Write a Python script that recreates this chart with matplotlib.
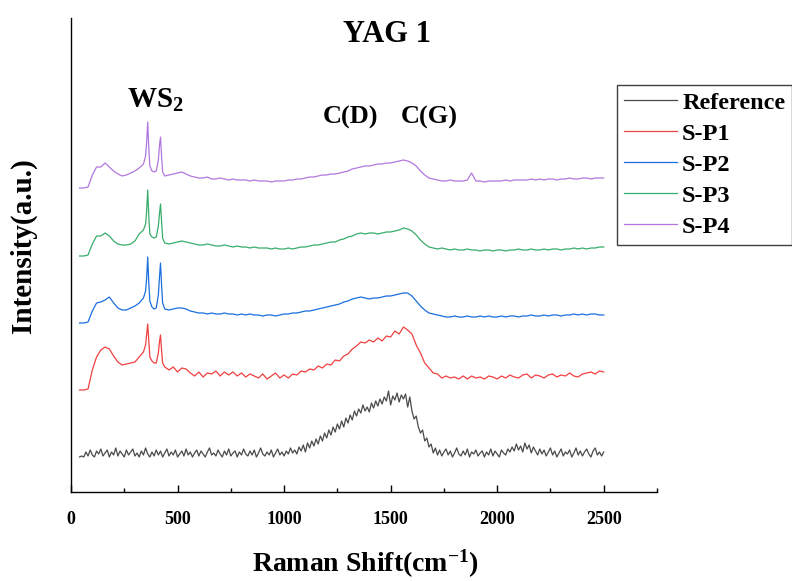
import numpy as np
import matplotlib
matplotlib.use("Agg")
from matplotlib import pyplot as plt
from matplotlib.ticker import MultipleLocator

plt.rcParams["font.family"] = "Liberation Serif"
plt.rcParams["font.weight"] = "bold"
plt.rcParams["mathtext.fontset"] = "custom"
plt.rcParams["mathtext.rm"] = "Liberation Serif:bold"
plt.rcParams["mathtext.it"] = "Liberation Serif:bold"
plt.rcParams["mathtext.bf"] = "Liberation Serif:bold"

# Raman shift axes (cm-1); the reference scan is on a finer 10 cm-1 step,
# the samples are denser around the WS2 peaks
shift_ref = np.arange(40, 2501, 10)
shift = np.concatenate([
    np.arange(40, 341, 20),
    [350, 355, 360, 365, 370, 380, 390, 400, 410, 415, 420, 425, 430, 440],
    np.arange(460, 2501, 20),
])

# baseline-corrected intensities (a.u.)
reference = [
    0, 1, 0, 5, 1, 7, 2, 0, 6, 3,
    8, 1, 4, 7, 0, 5, 2, 9, 1, 6,
    3, 0, 7, 2, 5, 8, 1, 4, 0, 6,
    2, 9, 3, 0, 5, 1, 7, 2, 6, 0,
    4, 8, 1, 5, 2, 7, 0, 3, 6, 1,
    8, 2, 5, 0, 4, 7, 1, 6, 3, 0,
    5, 9, 2, 4, 1, 7, 3, 0, 6, 2,
    8, 1, 4, 6, 0, 5, 2, 8, 3, 1,
    6, 2, 7, 0, 4, 9, 3, 1, 5, 2,
    7, 0, 4, 8, 2, 5, 1, 6, 3, 9,
    4, 7, 3, 10, 6, 12, 5, 14, 9, 16,
    11, 18, 13, 21, 16, 24, 19, 27, 22, 30,
    25, 33, 28, 36, 30, 39, 34, 42, 37, 46,
    41, 48, 44, 52, 46, 50, 45, 54, 49, 56,
    51, 58, 53, 60, 56, 66, 52, 61, 57, 64,
    55, 62, 58, 63, 50, 60, 46, 38, 41, 30,
    24, 27, 16, 19, 10, 13, 4, 9, 2, 7,
    1, 5, 8, 2, 6, 0, 4, 9, 3, 1,
    6, 2, 8, 0, 5, 3, 7, 1, 4, 6,
    0, 5, 2, 8, 1, 6, 3, 0, 7, 4,
    2, 8, 5, 10, 6, 13, 7, 11, 5, 14,
    8, 12, 4, 10, 6, 2, 8, 3, 7, 1,
    5, 9, 2, 6, 0, 4, 8, 1, 5, 3,
    7, 0, 4, 9, 2, 6, 1, 5, 8, 3,
    0, 6, 9, 2, 5, 1, 5,
]
sp1 = [
    0, 0, 1, 20, 33, 40, 43, 41, 34, 28, 25, 26, 27, 28, 33, 38,
    45, 55, 66, 50, 33, 29, 27, 27, 37, 48, 55, 40, 27, 23,
    20, 23, 18, 22, 21, 17, 14, 18, 13, 17,
    16, 19, 14, 18, 15, 18, 14, 17, 13, 16,
    14, 12, 16, 11, 14, 17, 12, 15, 12, 16,
    15, 19, 18, 21, 20, 24, 22, 26, 25, 30,
    29, 34, 36, 41, 44, 48, 47, 50, 48, 52,
    49, 54, 53, 59, 56, 63, 60, 56, 45, 37,
    27, 22, 17, 16, 12, 14, 12, 13, 11, 14,
    11, 14, 12, 13, 11, 14, 13, 11, 14, 12,
    15, 13, 12, 15, 16, 12, 15, 14, 12, 15,
    16, 13, 15, 14, 17, 14, 13, 16, 17, 18,
    16, 19, 18,
]
sp2 = [
    0, 0, 1, 12, 20, 21, 23, 26, 20, 15, 13, 13, 15, 17, 20, 25,
    32, 45, 66, 40, 22, 16, 14, 15, 28, 45, 60, 38, 20, 14,
    13, 14, 15, 15, 14, 12, 11, 10, 10, 9,
    10, 9, 9, 10, 9, 9, 8, 9, 8, 9,
    8, 8, 7, 8, 8, 7, 8, 9, 9, 10,
    10, 11, 12, 12, 13, 14, 15, 16, 17, 18,
    19, 21, 22, 24, 25, 26, 25, 24, 25, 25,
    26, 27, 27, 28, 29, 30, 30, 27, 22, 17,
    13, 10, 9, 8, 7, 6, 6, 7, 6, 6,
    7, 6, 6, 7, 6, 7, 6, 6, 7, 6,
    7, 7, 6, 7, 7, 8, 7, 7, 8, 7,
    8, 8, 7, 8, 8, 9, 8, 9, 8, 9,
    9, 8, 8,
]
sp3 = [
    0, 0, 1, 12, 20, 20, 23, 20, 15, 12, 11, 11, 12, 15, 22, 26,
    32, 45, 66, 40, 22, 19, 18, 19, 30, 42, 52, 35, 18, 13,
    12, 13, 14, 15, 14, 13, 12, 11, 11, 12,
    11, 10, 10, 11, 10, 9, 10, 9, 9, 8,
    9, 8, 8, 8, 7, 8, 7, 7, 8, 7,
    8, 9, 9, 10, 11, 11, 12, 13, 14, 14,
    16, 17, 19, 20, 22, 23, 22, 23, 23, 22,
    23, 24, 24, 25, 26, 28, 27, 25, 21, 16,
    12, 9, 8, 7, 8, 7, 6, 7, 6, 6,
    7, 6, 6, 5, 6, 6, 5, 6, 6, 5,
    6, 6, 7, 6, 6, 7, 6, 6, 7, 6,
    7, 7, 6, 7, 7, 8, 7, 8, 7, 8,
    8, 9, 9,
]
sp4 = [
    0, 0, 1, 13, 21, 21, 25, 21, 17, 14, 12, 13, 15, 17, 20, 24,
    32, 46, 66, 40, 22, 17, 16, 17, 28, 42, 51, 32, 16, 12,
    13, 14, 15, 16, 14, 12, 11, 10, 10, 11,
    9, 9, 10, 9, 8, 9, 8, 8, 8, 7,
    8, 7, 7, 7, 6, 7, 7, 7, 8, 8,
    9, 9, 10, 11, 11, 12, 13, 13, 14, 14,
    15, 16, 17, 19, 20, 21, 22, 22, 23, 24,
    24, 25, 25, 26, 27, 28, 27, 25, 22, 17,
    13, 10, 9, 8, 7, 7, 8, 7, 7, 7,
    8, 15, 7, 7, 6, 7, 7, 7, 7, 8,
    7, 8, 8, 8, 8, 9, 8, 9, 8, 9,
    9, 8, 9, 9, 10, 9, 9, 10, 10, 9,
    10, 10, 10,
]

labels = ["Reference", "S-P1", "S-P2", "S-P3", "S-P4"]
xs = [shift_ref, shift, shift, shift, shift]
spectra = [reference, sp1, sp2, sp3, sp4]
offsets = [35, 102, 169, 236, 304]
colors = ["#4a4a4a", "#F14040", "#1A6FDF", "#37AD6B", "#B177DE"]

fig = plt.figure(figsize=(7.92, 5.81), dpi=100)
ax = fig.add_axes([71 / 792, 89 / 581, 586 / 792, 474 / 581])

for lab, x, y, off, c in zip(labels, xs, spectra, offsets, colors):
    ax.plot(x, np.array(y) + off, color=c, lw=0.9, label=lab)

ax.set_xlim(0, 2750)
ax.set_ylim(0, 474)
ax.spines["top"].set_visible(False)
ax.spines["right"].set_visible(False)
ax.spines["left"].set_linewidth(1.0)
ax.spines["bottom"].set_linewidth(1.0)
ax.set_yticks([])
ax.xaxis.set_major_locator(MultipleLocator(500))
ax.xaxis.set_minor_locator(MultipleLocator(250))
ax.tick_params(axis="x", which="major", direction="in", length=5, width=1.0,
               pad=14, labelsize=13)
ax.tick_params(axis="x", which="minor", direction="in", length=3, width=1.0)
for t in ax.get_xticklabels():
    t.set_fontweight("bold")

ax.set_xlabel("Raman Shift(cm$^{-1}$)", fontsize=20, fontweight="bold")
ax.xaxis.set_label_coords(0.503, -0.118)
ax.set_ylabel("Intensity(a.u.)", fontsize=21, fontweight="bold")
ax.yaxis.set_label_coords(-0.058, 0.52)

ax.text(0.54, 0.966, "YAG 1", transform=ax.transAxes, ha="center", va="center",
        fontsize=22, fontweight="bold")

ax.text(395, 392, "WS$_2$", ha="center", va="center", fontsize=21, fontweight="bold")
ax.text(1310, 375, "C(D)", ha="center", va="center", fontsize=19, fontweight="bold")
ax.text(1680, 375, "C(G)", ha="center", va="center", fontsize=19, fontweight="bold")

leg = ax.legend(loc="upper left", bbox_to_anchor=(617 / 792, 1 - 85 / 581),
                bbox_transform=fig.transFigure, borderaxespad=0, fontsize=17.5,
                handlelength=2.2, handletextpad=0.2, frameon=True,
                fancybox=False, edgecolor="#404040", framealpha=1,
                labelspacing=0.37, borderpad=0.28)
leg.get_frame().set_linewidth(1.0)
for t in leg.get_texts():
    t.set_fontweight("bold")

fig.savefig("out.png", dpi=100)
